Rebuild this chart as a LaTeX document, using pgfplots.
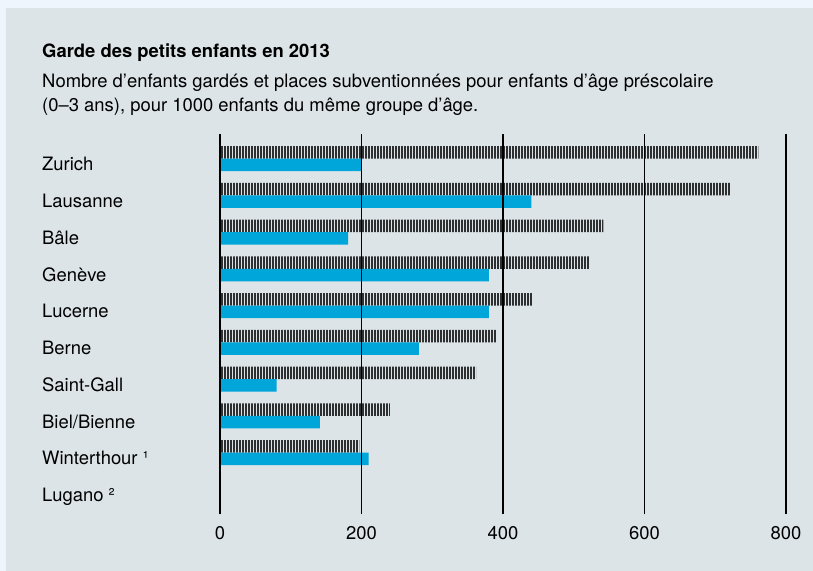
\documentclass[border=0pt]{standalone}
\usepackage{fontspec}
\setmainfont{TeX Gyre Heros}
\usepackage{pgfplots}
\pgfplotsset{compat=1.18}
\usetikzlibrary{patterns.meta}
\definecolor{outerbg}{RGB}{238,245,252}
\definecolor{panel}{RGB}{220,228,231}
\definecolor{barblue}{RGB}{0,166,218}
\definecolor{hatch}{RGB}{45,47,49}
\begin{document}
\begin{tikzpicture}
\fill[outerbg] (0bp,0bp) rectangle (813bp,-571bp);
\fill[panel] (6bp,-8bp) rectangle (813bp,-571bp);
\node[anchor=base west, font=\bfseries\fontsize{18.5}{22}\selectfont, inner sep=0pt] at (42bp,-57bp) {Garde des petits enfants en 2013};
\node[anchor=base west, font=\fontsize{18.5}{22}\selectfont, inner sep=0pt] at (42bp,-87bp) {Nombre d’enfants gardés et places subventionnées pour enfants d’âge préscolaire};
\node[anchor=base west, font=\fontsize{18.5}{22}\selectfont, inner sep=0pt] at (42bp,-111bp) {(0–3 ans), pour 1000 enfants du même groupe d’âge.};
\begin{axis}[
  at={(220bp,-514.3bp)}, anchor=south west,
  scale only axis, width=566bp, height=380bp,
  xmin=0, xmax=800, ymin=-0.68, ymax=9.66,
  xtick={0,200,...,800}, ytick={0,...,9},
  yticklabels={Lugano ²,Winterthour ¹,Biel/Bienne,Saint-Gall,Berne,Lucerne,Genève,Bâle,Lausanne,Zurich},
  xmajorgrids, ymajorgrids=false,
  major grid style={black, line width=1.5bp},
  axis line style={draw=none},
  major tick length=0pt,
  tick label style={font=\fontsize{18.5}{22}\selectfont, inner sep=0pt},
  yticklabel style={anchor=base west, xshift=-178bp, yshift=-12.2bp},
  xticklabel style={anchor=base, yshift=-25bp},
  /pgf/number format/assume math mode=true,
  axis on top,
  clip=false,
]
\addplot[xbar, bar width=12.5bp, bar shift=6.25bp, draw=none, pattern={Lines[angle=90,distance=3bp,line width=1.25bp]}, pattern color=hatch]
  coordinates {(761,9) (722,8) (542,7) (522,6) (441,5) (391,4) (362,3) (241,2) (197,1)};
\addplot[xbar, bar width=12.5bp, bar shift=-6.25bp, draw=none, fill=barblue]
  coordinates {(200,9) (440,8) (181,7) (380,6) (380,5) (281,4) (80,3) (141,2) (210,1)};
\end{axis}
\end{tikzpicture}
\end{document}
